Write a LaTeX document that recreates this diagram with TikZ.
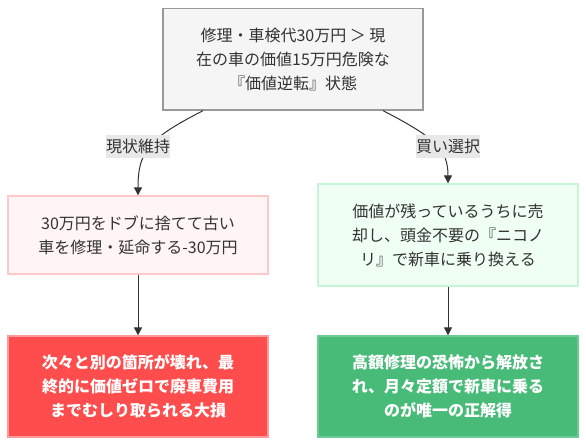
\documentclass[tikz,border=0pt]{standalone}
\usepackage{fontspec}
\setmainfont{Noto Sans CJK JP}
\usetikzlibrary{arrows.meta}
\definecolor{txt}{HTML}{333333}
\definecolor{topfill}{HTML}{F5F5F5}
\definecolor{topdraw}{HTML}{999999}
\definecolor{pinkfill}{HTML}{FFF5F5}
\definecolor{pinkdraw}{HTML}{FFC9C9}
\definecolor{mintfill}{HTML}{F0FFF4}
\definecolor{mintdraw}{HTML}{C6F6D5}
\definecolor{redfill}{HTML}{FF4D4D}
\definecolor{reddraw}{HTML}{FF9A9A}
\definecolor{greenfill}{HTML}{48BB78}
\definecolor{greendraw}{HTML}{6CCB94}
\definecolor{lblfill}{HTML}{E8E8E8}
\tikzset{
  box/.style={rectangle, minimum width=260pt, align=center, inner sep=0pt,
    line width=1.3pt, text=txt, font=\fontsize{16}{24}\selectfont},
  lbl/.style={rectangle, fill=lblfill, inner xsep=0pt, inner ysep=0pt,
    minimum height=23pt, text=txt, font=\fontsize{16}{24}\selectfont},
  conn/.style={draw=txt, line width=1pt, -{Triangle[length=8pt,width=8pt]}}
}
\begin{document}
\begin{tikzpicture}[x=1pt,y=-1pt]
\useasboundingbox (0,0) rectangle (586,446);
\node[box, fill=topfill, draw=topdraw, minimum height=101.5pt] (top) at (293,59.25)
  {修理・車検代30万円 ＞ 現\\在の車の価値15万円危険な\\『価値逆転』状態};
\node[box, fill=pinkfill, draw=pinkdraw, minimum height=78pt] (keep) at (138,235)
  {30万円をドブに捨てて古い\\車を修理・延命する-30万円};
\node[box, fill=mintfill, draw=mintdraw, minimum height=102pt] (buy) at (448,235)
  {価値が残っているうちに売\\却し、頭金不要の『ニコノ\\リ』で新車に乗り換える};
\node[box, fill=redfill, draw=reddraw, minimum height=101pt, text=white, font=\fontsize{16}{24}\selectfont\bfseries] (loss) at (138,386.5)
  {次々と別の箇所が壊れ、最\\終的に価値ゼロで廃車費用\\までむしり取られる大損};
\node[box, fill=greenfill, draw=greendraw, minimum height=101pt, text=white, font=\fontsize{16}{24}\selectfont\bfseries] (win) at (448,386.5)
  {高額修理の恐怖から解放さ\\れ、月々定額で新車に乗る\\のが唯一の正解得};
\draw[conn] ([xshift=-90pt]top.south) .. controls (150,138) and (138,150) .. (keep.north);
\draw[conn] ([xshift=90pt]top.south) .. controls (436,138) and (448,150) .. (buy.north);
\draw[conn] (keep.south) -- (loss.north);
\draw[conn] (buy.south) -- (win.north);
\node[lbl] (l1) at (138,146.5) {現状維持};
\node[lbl] (l2) at (448,146.5) {買い選択};
\end{tikzpicture}
\end{document}
